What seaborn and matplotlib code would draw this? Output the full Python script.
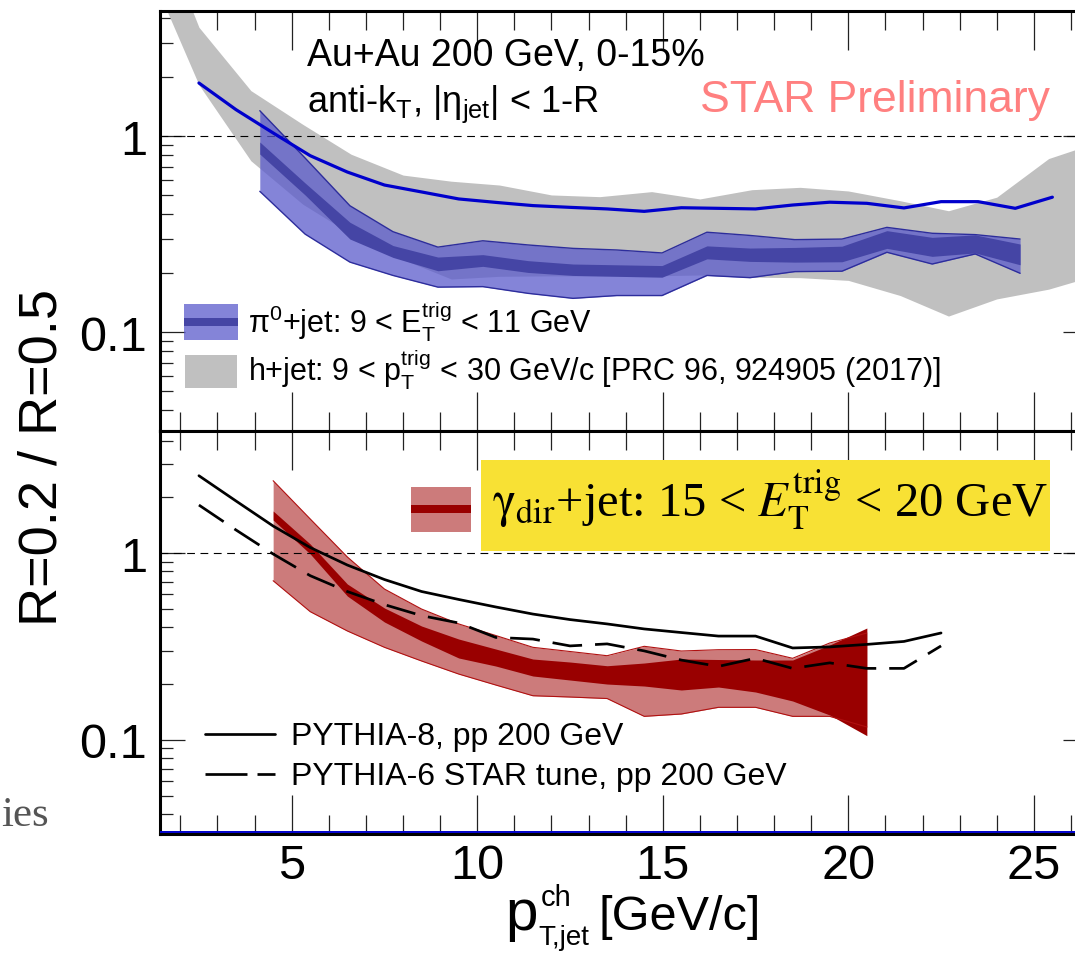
import matplotlib
matplotlib.use("Agg")
import numpy as np
import pandas as pd
import matplotlib.pyplot as plt
import matplotlib.transforms as mtransforms
from matplotlib.patches import Rectangle
from matplotlib.lines import Line2D
from matplotlib.ticker import FixedLocator, FixedFormatter, MultipleLocator, NullFormatter
import seaborn as sns

sns.set_theme(style="ticks")
plt.rcParams["font.family"] = ["Liberation Sans", "DejaVu Sans"]
plt.rcParams["mathtext.fontset"] = "custom"
plt.rcParams["mathtext.rm"] = "Liberation Sans"
plt.rcParams["mathtext.it"] = "Liberation Sans:italic"
plt.rcParams["mathtext.bf"] = "Liberation Sans:bold"
plt.rcParams["mathtext.sf"] = "Liberation Sans"

# ---------------- data ----------------
# h+jet (PRC 96) central ratio
hjet_x = [2.5, 3.5, 4.5, 5.5, 6.5, 7.5, 8.5, 9.5, 10.5, 11.5, 12.5, 13.5,
          14.5, 15.5, 16.5, 17.5, 18.5, 19.5, 20.5, 21.5, 22.5, 23.5, 24.5, 25.5]
hjet_val = [1.87, 1.367, 1.04, 0.796, 0.657, 0.564, 0.520, 0.479, 0.460, 0.443, 0.434, 0.426,
            0.414, 0.432, 0.429, 0.426, 0.446, 0.461, 0.455, 0.431, 0.464, 0.464, 0.429, 0.489]

# h+jet uncertainty band
hjet_band_x = [1.2, 2.5, 3.9, 5.3, 6.6, 8.0, 9.3, 10.6, 12.0, 13.3, 14.7, 16.0,
               17.4, 18.7, 20.0, 21.4, 22.7, 24.0, 25.4, 26.7]
hjet_band_hi = [15.0, 3.6, 1.71, 1.15, 0.81, 0.634, 0.59, 0.564, 0.502, 0.492, 0.522, 0.479,
                0.534, 0.549, 0.526, 0.469, 0.417, 0.489, 0.77, 0.93]
hjet_band_lo = [6.8, 1.83, 0.75, 0.45, 0.317, 0.235, 0.187, 0.193, 0.194, 0.194, 0.194, 0.196,
                0.191, 0.19, 0.184, 0.154, 0.121, 0.148, 0.166, 0.196]

# pi0+jet, 9 < E_T^trig < 11 GeV
pi0_x = [4.14, 5.36, 6.57, 7.73, 8.94, 10.15, 11.37, 12.58, 13.76, 14.98, 16.19, 17.35,
         18.56, 19.83, 21.04, 22.26, 23.42, 24.63]
pi0_sys_hi = [1.351, 0.775, 0.442, 0.326, 0.272, 0.293, 0.279, 0.268, 0.263, 0.254, 0.324, 0.312,
              0.297, 0.299, 0.343, 0.320, 0.315, 0.299]
pi0_sys_lo = [0.524, 0.317, 0.228, 0.195, 0.170, 0.171, 0.158, 0.149, 0.154, 0.154, 0.195, 0.190,
              0.204, 0.205, 0.256, 0.223, 0.251, 0.200]
pi0_stat_hi = [0.935, 0.578, 0.364, 0.277, 0.242, 0.249, 0.232, 0.223, 0.221, 0.219, 0.276, 0.269,
               0.271, 0.275, 0.330, 0.305, 0.314, 0.282]
pi0_stat_lo = [0.812, 0.502, 0.299, 0.241, 0.206, 0.217, 0.202, 0.195, 0.193, 0.191, 0.237, 0.230,
               0.228, 0.229, 0.268, 0.244, 0.254, 0.221]

# gamma_dir+jet, 15 < E_T^trig < 20 GeV
gam_x = [4.5, 5.5, 6.5, 7.5, 8.5, 9.5, 10.5, 11.5, 12.5, 13.5, 14.5, 15.5, 16.5, 17.5, 18.5, 19.5, 20.5]
gam_sys_hi = [2.439, 1.521, 0.952, 0.641, 0.501, 0.417, 0.3615, 0.3125, 0.2968, 0.2818, 0.3164,
              0.2986, 0.3034, 0.3040, 0.2729, 0.3296, 0.3727]
gam_sys_lo = [0.7105, 0.485, 0.3823, 0.3125, 0.2640, 0.2248, 0.1963, 0.1720, 0.1693, 0.1662, 0.1334,
              0.1373, 0.1491, 0.1491, 0.1334, 0.1334, 0.117]
gam_stat_hi = [1.679, 1.117, 0.682, 0.5075, 0.4064, 0.3462, 0.3060, 0.2705, 0.2607, 0.2490, 0.2575,
               0.2705, 0.2689, 0.2673, 0.2673, 0.3216, 0.3965]
gam_stat_lo = [1.502, 0.988, 0.588, 0.4270, 0.3378, 0.2740, 0.2481, 0.2194, 0.2088, 0.1987, 0.1939,
               0.1846, 0.1915, 0.1801, 0.1612, 0.1356, 0.1051]

# PYTHIA pp 200 GeV
pyth_x = [2.5, 3.5, 4.5, 5.5, 6.5, 7.5, 8.5, 9.5, 10.5, 11.5, 12.5, 13.5, 14.5, 15.5, 16.5,
          17.5, 18.5, 19.5, 20.5, 21.5, 22.5]
pythia8 = [2.594, 1.899, 1.395, 1.070, 0.862, 0.721, 0.622, 0.564, 0.514, 0.471, 0.440, 0.417,
           0.392, 0.375, 0.359, 0.359, 0.310, 0.314, 0.324, 0.336, 0.373]
pythia6 = [1.807, 1.328, 0.988, 0.756, 0.622, 0.529, 0.462, 0.422, 0.353, 0.346, 0.318, 0.326,
           0.299, 0.267, 0.247, 0.273, 0.241, 0.258, 0.241, 0.241, 0.318]

# axis ticks
x_major = [5, 10, 15, 20, 25]
x_tick_labels = ["5", "10", "15", "20", "25"]
y_major = [0.1, 1.0]
y_tick_labels = ["0.1", "1"]
y_minor = [0.04, 0.05, 0.06, 0.07, 0.08, 0.09, 0.2, 0.3, 0.4, 0.5, 0.6, 0.7, 0.8, 0.9, 2, 3, 4]

X_MIN, X_MAX = 1.44, 26.46
Y_TOP = (0.03136, 4.383)
Y_BOT = (0.03126, 4.503)

# colours
GRAY = "#c0c0c0"
BLUE_LINE = "#0000cc"
BLUE_SYS = "#5b5bcc"
BLUE_STAT = "#4545a5"
BLUE_EDGE = "#2d2d9c"
RED_SYS = "#cc7b7b"
RED_STAT = "#990000"
RED_EDGE = "#b01010"
YELLOW = "#f8e134"

# ---------------- figure ----------------
W, H = 1075, 954
fig = plt.figure(figsize=(W / 100, H / 100), dpi=100)

AX_L, AX_R = 159.6, 1088.0
ax_top = fig.add_axes([AX_L / W, 1 - 432 / H, (AX_R - AX_L) / W, (432 - 11.5) / H])
ax_bot = fig.add_axes([AX_L / W, 1 - 835 / H, (AX_R - AX_L) / W, (835 - 432) / H], sharex=ax_top)

for ax in (ax_top, ax_bot):
    ax.set_yscale("log")

# ---- top panel: h+jet and pi0+jet ----
ax_top.fill_between(hjet_band_x, hjet_band_lo, hjet_band_hi, color=GRAY, lw=0, zorder=1)
ax_top.axhline(1.0, color="black", lw=0.8, ls=(0, (7, 5)), zorder=2)
ax_top.fill_between(pi0_x, pi0_sys_lo, pi0_sys_hi, color=BLUE_SYS, alpha=0.75, lw=0, zorder=3)
ax_top.fill_between(pi0_x, pi0_stat_lo, pi0_stat_hi, color=BLUE_STAT, lw=0, zorder=4)
pi0_df = pd.DataFrame({"x": pi0_x, "hi": pi0_sys_hi, "lo": pi0_sys_lo})
sns.lineplot(data=pi0_df, x="x", y="hi", ax=ax_top, color=BLUE_EDGE, lw=1.0, zorder=5, legend=False)
sns.lineplot(data=pi0_df, x="x", y="lo", ax=ax_top, color=BLUE_EDGE, lw=1.0, zorder=5, legend=False)
hjet_df = pd.DataFrame({"x": hjet_x, "ratio": hjet_val})
sns.lineplot(data=hjet_df, x="x", y="ratio", ax=ax_top, color=BLUE_LINE, lw=2.3, zorder=6, legend=False)

# ---- bottom panel: gamma_dir+jet and PYTHIA ----
ax_bot.fill_between(gam_x, gam_sys_lo, gam_sys_hi, color=RED_SYS, lw=0, zorder=1)
ax_bot.fill_between(gam_x, gam_stat_lo, gam_stat_hi, color=RED_STAT, lw=0, zorder=2)
gam_df = pd.DataFrame({"x": gam_x, "hi": gam_sys_hi, "lo": gam_sys_lo})
sns.lineplot(data=gam_df, x="x", y="hi", ax=ax_bot, color=RED_EDGE, lw=0.8, zorder=3, legend=False)
sns.lineplot(data=gam_df, x="x", y="lo", ax=ax_bot, color=RED_EDGE, lw=0.8, zorder=3, legend=False)
pyth_df = pd.DataFrame({"x": pyth_x, "p8": pythia8, "p6": pythia6})
sns.lineplot(data=pyth_df, x="x", y="p8", ax=ax_bot, color="black", lw=1.95, zorder=4, legend=False)
sns.lineplot(data=pyth_df, x="x", y="p6", ax=ax_bot, color="black", lw=1.95, ls=(0, (11, 4.8)),
             zorder=4, legend=False)
ax_bot.axhline(1.0, color="black", lw=0.8, ls=(0, (7, 5)), zorder=5)
# thin blue rule sitting on the lower frame
shift = mtransforms.ScaledTranslation(0, 2.2 / 100, fig.dpi_scale_trans)
ax_bot.add_line(Line2D([0, 1], [0, 0], transform=ax_bot.transAxes + shift,
                       color=BLUE_LINE, lw=1.4, zorder=6))


def style_axes(ax, ylim):
    ax.set_xlim(X_MIN, X_MAX)
    ax.set_ylim(*ylim)
    ax.xaxis.set_major_locator(FixedLocator(x_major))
    ax.xaxis.set_major_formatter(FixedFormatter(x_tick_labels))
    ax.xaxis.set_minor_locator(MultipleLocator(1))
    ax.yaxis.set_major_locator(FixedLocator(y_major))
    ax.yaxis.set_major_formatter(FixedFormatter(y_tick_labels))
    ax.yaxis.set_minor_locator(FixedLocator(y_minor))
    ax.yaxis.set_minor_formatter(NullFormatter())
    ax.tick_params(which="both", direction="in", top=True, right=True,
                   width=0.9, color="#222222", labelsize=35, labelcolor="black")
    ax.tick_params(axis="x", which="major", length=28, pad=6.5)
    ax.tick_params(axis="x", which="minor", length=14)
    ax.tick_params(axis="y", which="major", length=18, pad=9)
    ax.tick_params(axis="y", which="minor", length=9.5)
    for sp in ax.spines.values():
        sp.set_linewidth(2.2)
        sp.set_color("black")
    ax.set_xlabel("")
    ax.set_ylabel("")
    ax.grid(False)
    ax.set_facecolor("white")


style_axes(ax_top, Y_TOP)
style_axes(ax_bot, Y_BOT)
ax_top.tick_params(labelbottom=False)


# ---------------- annotations ----------------
def ftext(px, py, s, **kw):
    kw.setdefault("va", "baseline")
    return fig.text(px / W, 1 - py / H, s, **kw)


def frect(x0, y0, x1, y1, **kw):
    fig.add_artist(Rectangle((x0 / W, 1 - y1 / H), (x1 - x0) / W, (y1 - y0) / H,
                             transform=fig.transFigure, **kw))


def fline(x0, x1, y, **kw):
    fig.add_artist(Line2D([x0 / W, x1 / W], [1 - y / H, 1 - y / H], transform=fig.transFigure, **kw))


ftext(307, 66, "Au+Au 200 GeV, 0-15%", size=27, color="black")
ftext(307, 112, r"anti-k$_{\mathrm{T}}$, $|\mathrm{\eta}_{\mathrm{jet}}|$ < 1-R", size=26, color="black")
ftext(700, 112, "STAR Preliminary", size=32, color="#ff8080")

# legend of the top panel
frect(184, 305, 238, 341, facecolor=BLUE_SYS, alpha=0.75, lw=0)
frect(184, 319, 238, 327, facecolor=BLUE_STAT, lw=0)
ftext(248, 334, r"$\mathrm{\pi}^{0}$+jet: 9 < $\mathrm{E}_{\mathrm{T}}^{\mathrm{trig}}$ < 11 GeV",
      size=22, color="black")
frect(185, 356, 237, 389, facecolor=GRAY, lw=0)
ftext(248, 382, r"h+jet: 9 < $\mathrm{p}_{\mathrm{T}}^{\mathrm{trig}}$ < 30 GeV/c [PRC 96, 924905 (2017)]",
      size=22, color="black")

# highlighted legend of the bottom panel
frect(411, 488, 471, 533, facecolor=RED_SYS, lw=0)
frect(411, 506, 471, 514, facecolor=RED_STAT, lw=0)
frect(481, 461, 1050, 552, facecolor=YELLOW, lw=0)
ftext(492, 518, r"$\mathrm{\gamma}_{\mathrm{dir}}$+jet: 15 < $E_{\mathrm{T}}^{\mathrm{trig}}$ < 20 GeV",
      size=35, color="black", family=["Liberation Serif", "DejaVu Serif"], math_fontfamily="stix")

# PYTHIA legend
fline(205, 275, 735, color="black", lw=1.95)
ftext(291, 745, "PYTHIA-8, pp 200 GeV", size=23, color="black")
fline(205, 275, 775, color="black", lw=1.95, ls=(0, (15.5, 3.7)))
ftext(291, 785, "PYTHIA-6 STAR tune, pp 200 GeV", size=23, color="black")

# axis titles
fig.text(43 / W, 1 - 457 / H, "R=0.2 / R=0.5", rotation=90, ha="center", va="center",
         size=39, color="black")
ftext(505, 930, "p", size=42, color="black")
ftext(541, 906, "ch", size=21, color="black")
ftext(538, 945, "T,jet", size=20, color="black")
ftext(598, 930, "[GeV/c]", size=35, color="black")

ftext(1, 826, "ies", size=31, color="#555555", family=["Liberation Serif", "DejaVu Serif"])

fig.savefig("out.png", dpi=100, facecolor="white")
